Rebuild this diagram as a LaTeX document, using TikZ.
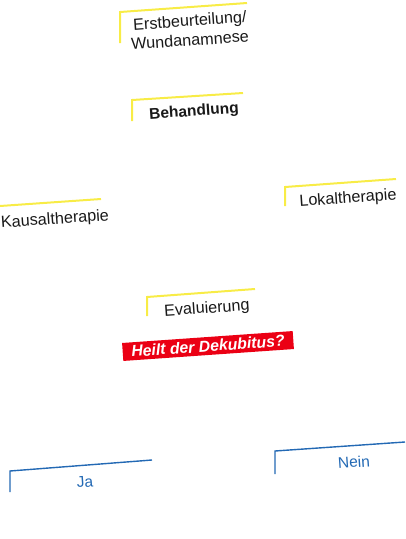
\documentclass[tikz,border=0pt]{standalone}
\usepackage{fontspec}
\setmainfont{Liberation Sans}
\definecolor{hlyellow}{RGB}{248,236,70}
\definecolor{lblue}{RGB}{35,105,180}
\definecolor{qred}{RGB}{235,0,20}
\begin{document}
\begin{tikzpicture}[x=1pt,y=-1pt,
  ylw/.style={draw=hlyellow,line width=2pt},
  blu/.style={draw=lblue,line width=1.4pt},
  lbl/.style={inner sep=0pt,rotate=4,font=\fontsize{16.2}{17}\selectfont,text=black!90},
  blbl/.style={inner sep=0pt,rotate=4,font=\fontsize{15.5}{16}\selectfont,text=lblue},
  qbox/.style={fill=qred,rotate=4,inner sep=0pt,minimum width=171pt,minimum height=18pt,
    text=white,font=\fontsize{15.8}{16}\selectfont\bfseries\itshape}]
\useasboundingbox (0,0) rectangle (406,539);
% brackets
\draw[ylw] (120,43) -- (120,12) -- (247,3);
\draw[ylw] (132,121) -- (132,100) -- (243,93);
\draw[ylw] (0,206) -- (101,199);
\draw[ylw] (285,206) -- (285,187) -- (396,179);
\draw[ylw] (147,316) -- (147,297) -- (255,289);
\draw[blu] (10,492) -- (10,471) -- (152,460);
\draw[blu] (275,474) -- (275,451) -- (405,442);
% labels
\node[lbl] (erst) at (190,22) {Erstbeurteilung/};
\node[lbl] (wund) at (190,40) {Wundanamnese};
\node[lbl,font=\fontsize{15.5}{16}\selectfont\bfseries] (beh) at (194,112) {Behandlung};
\node[lbl] (kaus) at (55,220) {Kausaltherapie};
\node[lbl] (lok) at (348,199) {Lokaltherapie};
\node[lbl] (eval) at (207,309) {Evaluierung};
\node[qbox] (heilt) at (208,346) {Heilt der Dekubitus?};
\node[blbl] (ja) at (85,482) {Ja};
\node[blbl] (nein) at (354,462) {Nein};
\end{tikzpicture}
\end{document}
